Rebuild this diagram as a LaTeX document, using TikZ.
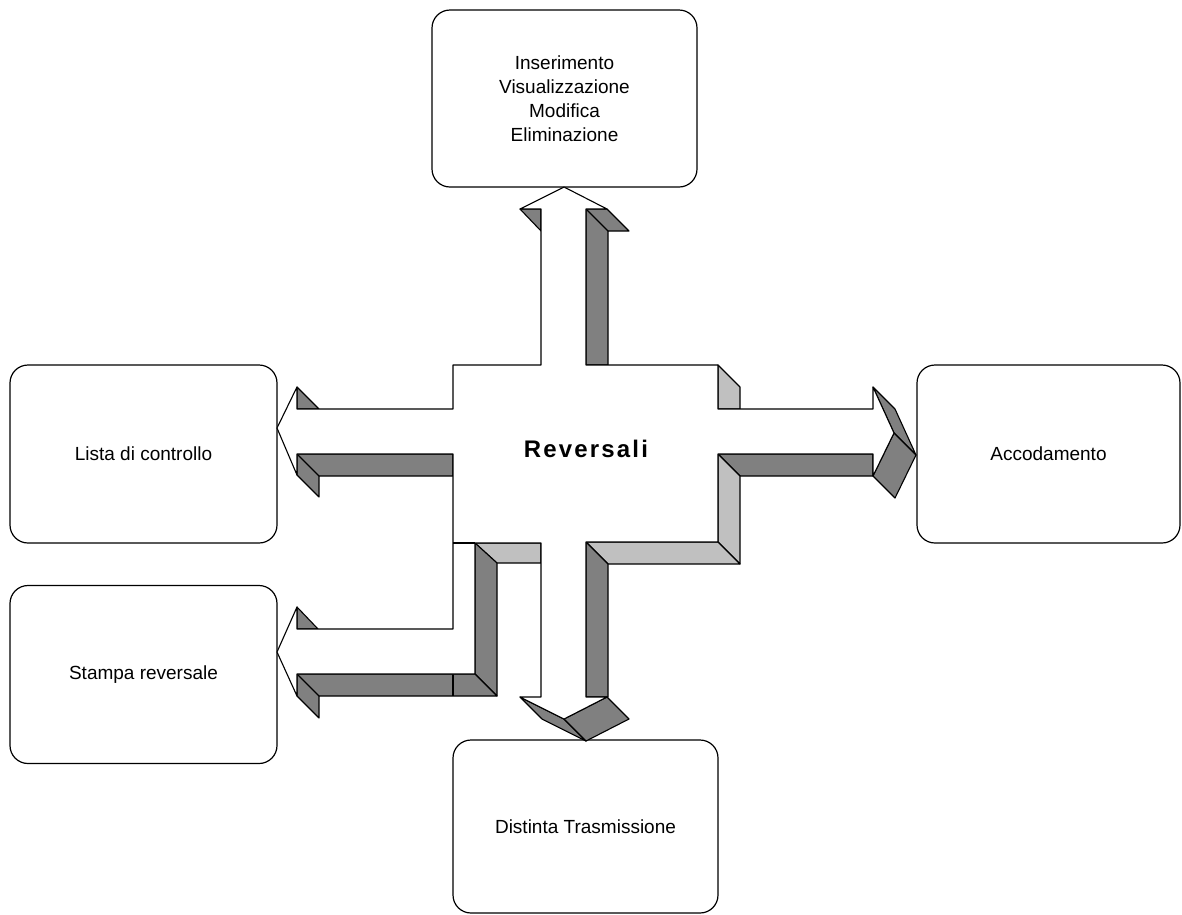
\documentclass[tikz,border=0pt]{standalone}
\usepackage{fontspec}
\setmainfont{Liberation Sans}
\newfontfamily\titlefont[LetterSpace=9]{Liberation Sans}
\definecolor{darkface}{HTML}{808080}
\definecolor{lightface}{HTML}{C0C0C0}
\begin{document}
\begin{tikzpicture}[x=1pt,y=-1pt,
  box/.style={draw=black, line width=1.2pt, rounded corners=18pt, fill=white,
    font=\fontsize{19}{24}\selectfont, align=center, inner sep=0pt},
  face/.style={draw=black, line width=1.1pt, line join=round},
  dark/.style={face, fill=darkface},
  light/.style={face, fill=lightface},
  front/.style={face, fill=white}]
\useasboundingbox (0,0) rectangle (1182,914);

% destination boxes
\node[box, minimum width=265pt, minimum height=177pt] (gestione) at (564.5,98.5)
  {Inserimento\\Visualizzazione\\Modifica\\Eliminazione};
\node[box, minimum width=267pt, minimum height=178pt] (lista) at (143.5,454) {Lista di controllo};
\node[box, minimum width=267pt, minimum height=178pt] (stampa) at (143.5,674.5) {Stampa reversale};
\node[box, minimum width=263pt, minimum height=178pt] (accodamento) at (1048.5,454) {Accodamento};
\node[box, minimum width=265pt, minimum height=173pt] (distinta) at (585.5,826.5) {Distinta Trasmissione};

% extruded side faces of the block arrows
% upward arrow
\draw[dark] (520,209) -- (541,209) -- (541,231) -- cycle;
\draw[dark] (586,209) -- (607,209) -- (629,231) -- (608,231) -- (608,365) -- (586,365) -- cycle;
\draw[face] (586,209) -- (608,231);
% arrow to the check list
\draw[dark] (297,387) -- (297,409) -- (319,409) -- cycle;
\draw[dark] (297,454) -- (453,454) -- (453,476) -- (319,476) -- (319,497) -- (297,475) -- cycle;
\draw[face] (297,454) -- (319,476);
% arrow to the queue
\draw[light] (718,365) -- (740,387) -- (740,409) -- (718,409) -- cycle;
\draw[dark] (718,454) -- (873,454) -- (873,476) -- (740,476) -- cycle;
\draw[light] (718,454) -- (740,476) -- (740,564) -- (718,542) -- cycle;
\draw[dark] (873,387) -- (895,409) -- (916,455) -- (894,433) -- cycle;
\draw[dark] (894,433) -- (916,455) -- (895,498) -- (873,476) -- cycle;
% downward arrow
\draw[light] (586,542) -- (718,542) -- (740,564) -- (608,564) -- cycle;
\draw[dark] (586,542) -- (608,564) -- (608,697) -- (586,697) -- cycle;
\draw[dark] (520,697) -- (564,719) -- (586,741) -- (542,719) -- cycle;
\draw[dark] (564,719) -- (607,697) -- (629,719) -- (586,741) -- cycle;
% L-shaped arrow to the printout
\draw[light] (475,543) -- (541,543) -- (541,563) -- (497,563) -- cycle;
\draw[dark] (475,543) -- (497,563) -- (497,696) -- (475,674) -- cycle;
\draw[dark] (297,674) -- (475,674) -- (497,696) -- (319,696) -- (319,718) -- (297,696) -- cycle;
\draw[face] (297,674) -- (319,696);
\draw[face] (453,674) -- (453,696);
\draw[dark] (297,607) -- (297,629) -- (318,629) -- cycle;

% front face of the whole arrow cross
\draw[front] (564,187) -- (607,209) -- (586,209) -- (586,365) -- (718,365) -- (718,409)
  -- (873,409) -- (873,387) -- (894,433) -- (873,476) -- (873,454) -- (718,454)
  -- (718,542) -- (586,542) -- (586,697) -- (607,697) -- (564,719) -- (520,697)
  -- (541,697) -- (541,543) -- (475,543) -- (475,674) -- (297,674) -- (297,696)
  -- (277,652) -- (297,607) -- (297,629) -- (453,629) -- (453,454) -- (297,454)
  -- (297,475) -- (277,428) -- (297,387) -- (297,409) -- (453,409) -- (453,365)
  -- (541,365) -- (541,209) -- (520,209) -- cycle;
\draw[face] (453,543) -- (475,543);

% central label
\node[font=\titlefont\bfseries\fontsize{24}{28}\selectfont] (centro) at (586,449) {Reversali};
\end{tikzpicture}
\end{document}
